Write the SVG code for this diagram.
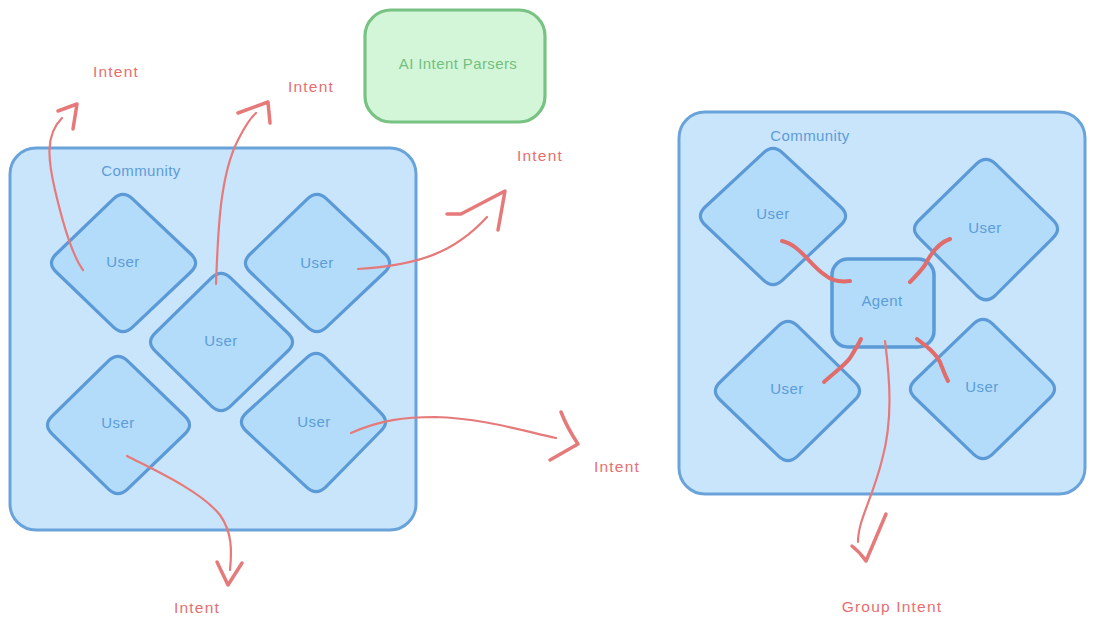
<svg xmlns="http://www.w3.org/2000/svg" width="1095" height="631" viewBox="0 0 1095 631">
<style>
.box{fill:#c9e5fc;stroke:#6aa3da;stroke-width:3}
.dia{fill:#b2dcfa;stroke:#5b9ad6;stroke-width:3;stroke-linejoin:round}
.agent{fill:#b2dcfa;stroke:#5b9ad6;stroke-width:3.5}
.ai{fill:#d3f6d9;stroke:#78c283;stroke-width:3.2}
.t{font-family:"Liberation Sans",Arial,sans-serif;font-size:15px;text-anchor:middle;dominant-baseline:middle;letter-spacing:0.4px}
.tb{fill:#5d9cd8}
.tr{fill:#e86e6e;font-size:15.5px;letter-spacing:1.2px}
.tg{fill:#72c07f}
.c{fill:none;stroke:#e67a7a;stroke-width:2.2;stroke-linecap:round;stroke-linejoin:round}
.h{fill:none;stroke:#e67a7a;stroke-width:3.5;stroke-linecap:round;stroke-linejoin:round}
.s{fill:none;stroke:#e06c6c;stroke-width:4;stroke-linecap:round}
</style>
<g id="community-left">
<rect class="box" x="10" y="148" width="406" height="382" rx="26"/>
<text class="t tb" x="141" y="172">Community</text>
</g>
<g id="community-right">
<rect class="box" x="679" y="112" width="406" height="382" rx="26"/>
<text class="t tb" x="810" y="137">Community</text>
</g>
<g id="ai-parsers">
<rect class="ai" x="365" y="10" width="180" height="112" rx="26"/>
<text class="t tg" x="458" y="65">AI Intent Parsers</text>
</g>
<g id="user-l1">
<path class="dia" transform="translate(123,263) scale(1.06) translate(-123,-263)" d="M132,202.5 L187,254.5 Q196,263 187,271.5 L132,323.5 Q123,332 114,323.5 L60,271.5 Q51,263 60,254.5 L114,202.5 Q123,194 132,202.5 Z"/>
<text class="t tb" x="123" y="263">User</text>
</g>
<g id="user-l2">
<path class="dia" transform="translate(317,263) scale(1.06) translate(-317,-263)" d="M326,202.5 L381,254.5 Q390,263 381,271.5 L326,323.5 Q317,332 308,323.5 L254,271.5 Q245,263 254,254.5 L308,202.5 Q317,194 326,202.5 Z"/>
<text class="t tb" x="317" y="264">User</text>
</g>
<g id="user-l3">
<path class="dia" transform="translate(221,342) scale(1.06) translate(-221,-342)" d="M230,281.5 L284,333.5 Q293,342 284,350.5 L230,402.5 Q221,411 212,402.5 L159,350.5 Q150,342 159,333.5 L212,281.5 Q221,273 230,281.5 Z"/>
<text class="t tb" x="221" y="342">User</text>
</g>
<g id="user-l4">
<path class="dia" transform="translate(118,425) scale(1.06) translate(-118,-425)" d="M127,364.5 L181,416.5 Q190,425 181,433.5 L127,485.5 Q118,494 109,485.5 L56,433.5 Q47,425 56,416.5 L109,364.5 Q118,356 127,364.5 Z"/>
<text class="t tb" x="118" y="424">User</text>
</g>
<g id="user-l5">
<path class="dia" transform="translate(314,422) scale(1.06) translate(-314,-422)" d="M325,361.5 L377,413.5 Q386,422 377,430.5 L325,483.5 Q316,492 307,483.5 L250,430.5 Q241,422 250,413.5 L307,361.5 Q316,353 325,361.5 Z"/>
<text class="t tb" x="314" y="423">User</text>
</g>
<g id="user-r1">
<path class="dia" transform="translate(773,216) scale(1.06) translate(-773,-216)" d="M782,156.5 L837,207.5 Q846,216 837,224.5 L782,276.5 Q773,285 764,276.5 L709,224.5 Q700,216 709,207.5 L764,156.5 Q773,148 782,156.5 Z"/>
<text class="t tb" x="773" y="215">User</text>
</g>
<g id="user-r2">
<path class="dia" transform="translate(986,229) scale(1.06) translate(-986,-229)" d="M995,167.5 L1049,220.5 Q1058,229 1049,237.5 L995,291.5 Q986,300 977,291.5 L923,237.5 Q914,229 923,220.5 L977,167.5 Q986,159 995,167.5 Z"/>
<text class="t tb" x="985" y="229">User</text>
</g>
<g id="user-r3">
<path class="dia" transform="translate(788,391) scale(1.06) translate(-788,-391)" d="M797,329.5 L851,382.5 Q860,391 851,399.5 L797,452.5 Q788,461 779,452.5 L724,399.5 Q715,391 724,382.5 L779,329.5 Q788,321 797,329.5 Z"/>
<text class="t tb" x="787" y="390">User</text>
</g>
<g id="user-r4">
<path class="dia" transform="translate(983,389) scale(1.06) translate(-983,-389)" d="M992,327.5 L1046,380.5 Q1055,389 1046,397.5 L992,450.5 Q983,459 974,450.5 L919,397.5 Q910,389 919,380.5 L974,327.5 Q983,319 992,327.5 Z"/>
<text class="t tb" x="982" y="388">User</text>
</g>
<g id="agent">
<rect class="agent" x="832" y="259" width="102" height="88" rx="16"/>
<text class="t tb" x="882" y="302">Agent</text>
</g>
<g id="connectors">
<path class="c" d="M83,270 C72,255 62,220 55,190 C48,160 45,135 62,118"/>
<path class="h" d="M58,111 L77,104 L73,129"/>
<path class="c" d="M216,284 C218,230 220,175 238,140 C245,126 250,118 256,113"/>
<path class="h" d="M238,113 L268,102 L270,123"/>
<path class="c" d="M358,269 C420,265 455,252 487,217"/>
<path class="h" d="M447,214 L461,214 L505,191 L498,230"/>
<path class="c" d="M351,433 C380,420 405,417 435,417 C480,418 520,430 556,438"/>
<path class="h" d="M561,412 C566,425 572,435 578,444 L550,460"/>
<path class="c" d="M127,456 C150,468 200,490 220,515 C232,532 232,550 230,570"/>
<path class="h" d="M217,562 L228,585 L242,563"/>
<path class="s" d="M782,241 C800,245 810,265 825,275 C832,281 842,282 850,281"/>
<path class="s" d="M950,239 C938,243 930,255 925,265 C920,272 915,277 910,282"/>
<path class="s" d="M824,382 C835,372 845,365 850,358 C855,350 858,345 861,339"/>
<path class="s" d="M917,339 C925,345 935,352 940,362 C943,370 945,375 948,381"/>
<path class="c" d="M885,341 C890,380 893,420 882,460 C872,500 858,520 858,542"/>
<path class="h" d="M852,546 C857,550 862,555 866,561 L886,514"/>
</g>
<g id="labels">
<text class="t tr" x="116" y="73">Intent</text>
<text class="t tr" x="311" y="88">Intent</text>
<text class="t tr" x="540" y="157">Intent</text>
<text class="t tr" x="617" y="468">Intent</text>
<text class="t tr" x="197" y="609">Intent</text>
<text class="t tr" x="892" y="608">Group Intent</text>
</g>
</svg>
